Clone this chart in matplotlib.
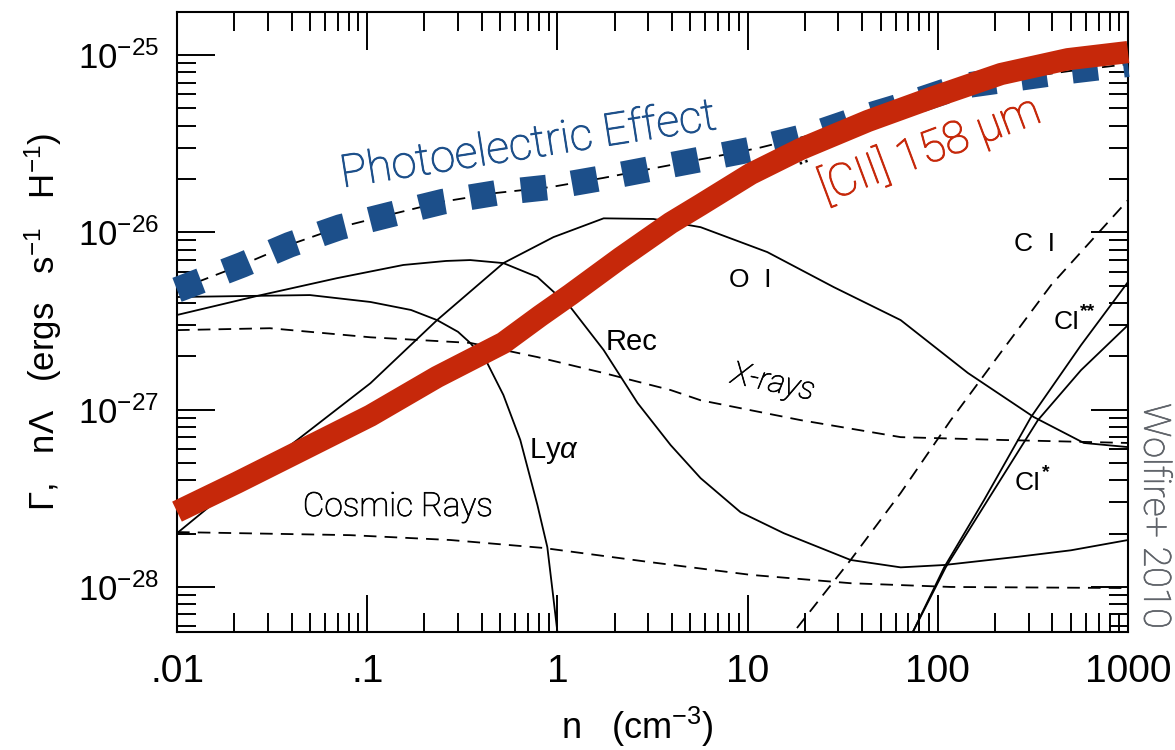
import numpy as np
import matplotlib
matplotlib.use("Agg")
import matplotlib.pyplot as plt
import matplotlib.patheffects as pe
from matplotlib.ticker import FixedLocator, FixedFormatter, LogLocator, NullFormatter

plt.rcParams["font.family"] = ["Liberation Sans", "DejaVu Sans"]
plt.rcParams["mathtext.fontset"] = "custom"
plt.rcParams["mathtext.rm"] = "Liberation Sans"
plt.rcParams["mathtext.it"] = "Liberation Sans:italic"
plt.rcParams["mathtext.bf"] = "Liberation Sans:bold"

W, H = 1175, 750
BLUE = "#1c4f8a"
RED = "#c6280a"
GRAY = "#5f6369"
LIGHT = ["Roboto", "DejaVu Sans"]

# density n (cm^-3) and heating / cooling rate (ergs s^-1 H^-1)
pe_n = [0.01, 0.022, 0.039, 0.072, 0.132, 0.25, 0.48, 0.92, 1.75, 3.28, 6.2, 11.4,
        21.5, 39.4, 72, 132, 264, 489, 1000]
pe_rate = [4.74e-27, 6.56e-27, 8.51e-27, 1.07e-26, 1.26e-26, 1.49e-26, 1.67e-26,
           1.80e-26, 2.03e-26, 2.31e-26, 2.63e-26, 2.99e-26, 3.54e-26, 4.42e-26,
           5.37e-26, 6.68e-26, 7.41e-26, 8.12e-26, 8.89e-26]

cii_n = [0.01, 0.0207, 0.046, 0.104, 0.233, 0.52, 0.815, 1.17, 2.15, 3.94, 5.66,
         10.4, 19.0, 42.9, 95, 215, 483, 1000]
cii_rate = [2.66e-28, 3.88e-28, 5.96e-28, 9.25e-28, 1.53e-27, 2.38e-27, 3.39e-27,
            4.45e-27, 7.18e-27, 1.13e-26, 1.43e-26, 2.14e-26, 2.95e-26, 4.25e-26,
            5.79e-26, 7.82e-26, 9.48e-26, 1.04e-25]

lya_n = [0.01, 0.0242, 0.050, 0.104, 0.17, 0.233, 0.30, 0.348, 0.428, 0.52, 0.638,
         0.785, 0.885, 0.942, 1.0, 1.04]
lya_rate = [4.32e-27, 4.38e-27, 4.43e-27, 4.05e-27, 3.65e-27, 3.20e-27, 2.75e-27,
            2.38e-27, 1.83e-27, 1.21e-27, 6.75e-28, 2.90e-28, 1.68e-28, 9.6e-29,
            5.57e-29, 1e-29]

rec_n = [0.01, 0.0264, 0.0695, 0.155, 0.26, 0.348, 0.52, 0.785, 1.17, 1.75, 2.64,
         3.94, 5.66, 9.18, 15.5, 34.8, 63.8, 108, 264, 501, 1000]
rec_rate = [3.42e-27, 4.38e-27, 5.52e-27, 6.55e-27, 6.90e-27, 6.98e-27, 6.71e-27,
            5.60e-27, 3.79e-27, 2.17e-27, 1.09e-27, 6.31e-28, 4.11e-28, 2.64e-28,
            2.01e-28, 1.42e-28, 1.29e-28, 1.33e-28, 1.48e-28, 1.61e-28, 1.84e-28]

oi_n = [0.01, 0.0163, 0.0429, 0.104, 0.233, 0.52, 0.953, 1.75, 3.2, 5.66, 12.7, 28.4,
        63.8, 144, 320, 586, 1000]
oi_rate = [2.01e-28, 3.09e-28, 6.75e-28, 1.41e-27, 3.20e-27, 6.71e-27, 9.40e-27,
           1.20e-26, 1.19e-26, 1.07e-26, 7.74e-27, 4.91e-27, 3.20e-27, 1.61e-27,
           9.08e-28, 6.49e-28, 6.15e-28]

xray_n = [0.01, 0.0308, 0.104, 0.348, 0.785, 1.75, 3.94, 5.66, 19.0, 63.8, 215, 1000]
xray_rate = [2.81e-27, 2.88e-27, 2.56e-27, 2.38e-27, 1.98e-27, 1.61e-27, 1.29e-27,
             1.13e-27, 8.73e-28, 7.00e-28, 6.75e-28, 6.49e-28]

cr_n = [0.01, 0.0815, 0.274, 0.843, 3.08, 10.4, 34.8, 117, 1000]
cr_rate = [2.04e-28, 1.96e-28, 1.84e-28, 1.66e-28, 1.38e-28, 1.17e-28, 1.05e-28,
           1.00e-28, 9.86e-29]

ci_n = [13.2, 17.5, 34.8, 63.8, 117, 215, 394, 1000]
ci_rate = [3.87e-29, 5.57e-29, 1.42e-28, 3.39e-28, 8.73e-28, 2.11e-27, 5.04e-27, 1.52e-26]

ci2_n = [63.8, 73.9, 108, 175, 309, 566, 1000]
ci2_rate = [4.03e-29, 5.57e-29, 1.29e-28, 3.09e-28, 9.08e-28, 2.31e-27, 5.25e-27]

ci1_n = [63.8, 73.9, 110, 183, 336, 566, 1000]
ci1_rate = [3.87e-29, 5.57e-29, 1.29e-28, 3.09e-28, 8.73e-28, 1.67e-27, 3.00e-27]

xtick_vals = [0.01, 0.1, 1, 10, 100, 1000]
xtick_labels = [".01", ".1", "1", "10", "100", "1000"]
ytick_vals = [1e-28, 1e-27, 1e-26, 1e-25]
ytick_labels = [r"$10^{-28}$", r"$10^{-27}$", r"$10^{-26}$", r"$10^{-25}$"]


def fig_xy(px, py):
    return px / W, 1 - py / H


def thicken(color, w=0.7):
    # Roboto Light is a touch thinner than the original lettering
    return [pe.withStroke(linewidth=w, foreground=color)]


fig = plt.figure(figsize=(W / 100, H / 100), dpi=100)
ax = fig.add_axes([177 / W, 1 - 632 / H, (1128 - 177) / W, (632 - 12) / H])
ax.set_xscale("log")
ax.set_yscale("log")
ax.set_xlim(0.01, 1000)
ax.set_ylim(10 ** -28.254, 10 ** -24.757)

dash = (0, (7, 4.5))
thin = dict(color="black", lw=1.3, zorder=2, solid_joinstyle="round")
for n, r in [(lya_n, lya_rate), (rec_n, rec_rate), (oi_n, oi_rate),
             (ci2_n, ci2_rate), (ci1_n, ci1_rate)]:
    ax.plot(n, r, **thin)
for n, r in [(xray_n, xray_rate), (cr_n, cr_rate), (ci_n, ci_rate), (pe_n, pe_rate)]:
    ax.plot(n, r, linestyle=dash, **thin)

# highlighted curves
ax.plot(pe_n, pe_rate, color=BLUE, lw=18.5, linestyle=(0, (1, 1)),
        dash_capstyle="butt", clip_on=False, zorder=3)
ax.plot(cii_n, cii_rate, color=RED, lw=16, solid_capstyle="butt",
        solid_joinstyle="round", clip_on=False, zorder=4)

# ticks
ax.xaxis.set_major_locator(FixedLocator(xtick_vals))
ax.xaxis.set_major_formatter(FixedFormatter(xtick_labels))
ax.yaxis.set_major_locator(FixedLocator(ytick_vals))
ax.yaxis.set_major_formatter(FixedFormatter(ytick_labels))
for axis in (ax.xaxis, ax.yaxis):
    axis.set_minor_locator(LogLocator(base=10, subs=np.arange(2, 10), numticks=50))
    axis.set_minor_formatter(NullFormatter())
ax.tick_params(which="both", direction="in", top=True, right=True, width=1.4)
ax.tick_params(which="major", length=27)
ax.tick_params(which="minor", length=14)
ax.tick_params(axis="x", which="major", labelsize=28, pad=16)
ax.tick_params(axis="y", which="major", labelsize=25, pad=13)
for s in ax.spines.values():
    s.set_linewidth(1.5)

# axis labels
fig.text(*fig_xy(43, 322), "Γ,   nΛ   (ergs   s$^{-1}$   H$^{-1}$)", rotation=90,
         ha="center", va="center", fontsize=25)
fig.text(*fig_xy(637, 727), "n   (cm$^{-3}$)", ha="center", va="center", fontsize=26)

# curve labels
fig.text(*fig_xy(750, 280), "O  I", ha="center", va="center", fontsize=19)
fig.text(*fig_xy(1035, 244), "C  I", ha="center", va="center", fontsize=19)
fig.text(*fig_xy(632, 342), "Rec", ha="center", va="center", fontsize=21)
fig.text(*fig_xy(554, 451), r"Ly$\alpha$", ha="center", va="center", fontsize=21)
fig.text(*fig_xy(1067, 322), "CI", ha="center", va="center", fontsize=19)
fig.text(*fig_xy(1088, 312), "**", ha="center", va="center", fontsize=14,
         fontweight="bold")
fig.text(*fig_xy(1028, 483), "CI", ha="center", va="center", fontsize=19)
fig.text(*fig_xy(1046, 473), "*", ha="center", va="center", fontsize=14,
         fontweight="bold")
fig.text(*fig_xy(398, 507), "Cosmic Rays", ha="center", va="center", fontsize=24,
         family=LIGHT, fontweight="light", path_effects=thicken("black", 0.5))
fig.text(*fig_xy(773, 383), "X-rays", ha="center", va="center", fontsize=23,
         rotation=-12, family=LIGHT, fontweight="light", fontstyle="italic",
         path_effects=thicken("black", 0.5))

fig.text(*fig_xy(530, 158), "Photoelectric Effect", ha="center", va="baseline",
         rotation=8.9, rotation_mode="anchor", color=BLUE, fontsize=32.5,
         family=LIGHT, fontweight="light", path_effects=thicken(BLUE))
fig.text(*fig_xy(934, 162), "[CII] 158 μm", ha="center", va="baseline",
         rotation=20.5, rotation_mode="anchor", color=RED, fontsize=32.5,
         family=LIGHT, fontweight="light", path_effects=thicken(RED))
fig.text(*fig_xy(808, 174), "¨", ha="center", va="center", fontsize=22,
         rotation=20)
fig.text(*fig_xy(1155, 516), "Wolfire+ 2010", ha="center", va="center",
         rotation=-90, color=GRAY, fontsize=27, family=LIGHT, fontweight="light",
         path_effects=thicken(GRAY, 0.5))

fig.savefig("out.png", dpi=100)
